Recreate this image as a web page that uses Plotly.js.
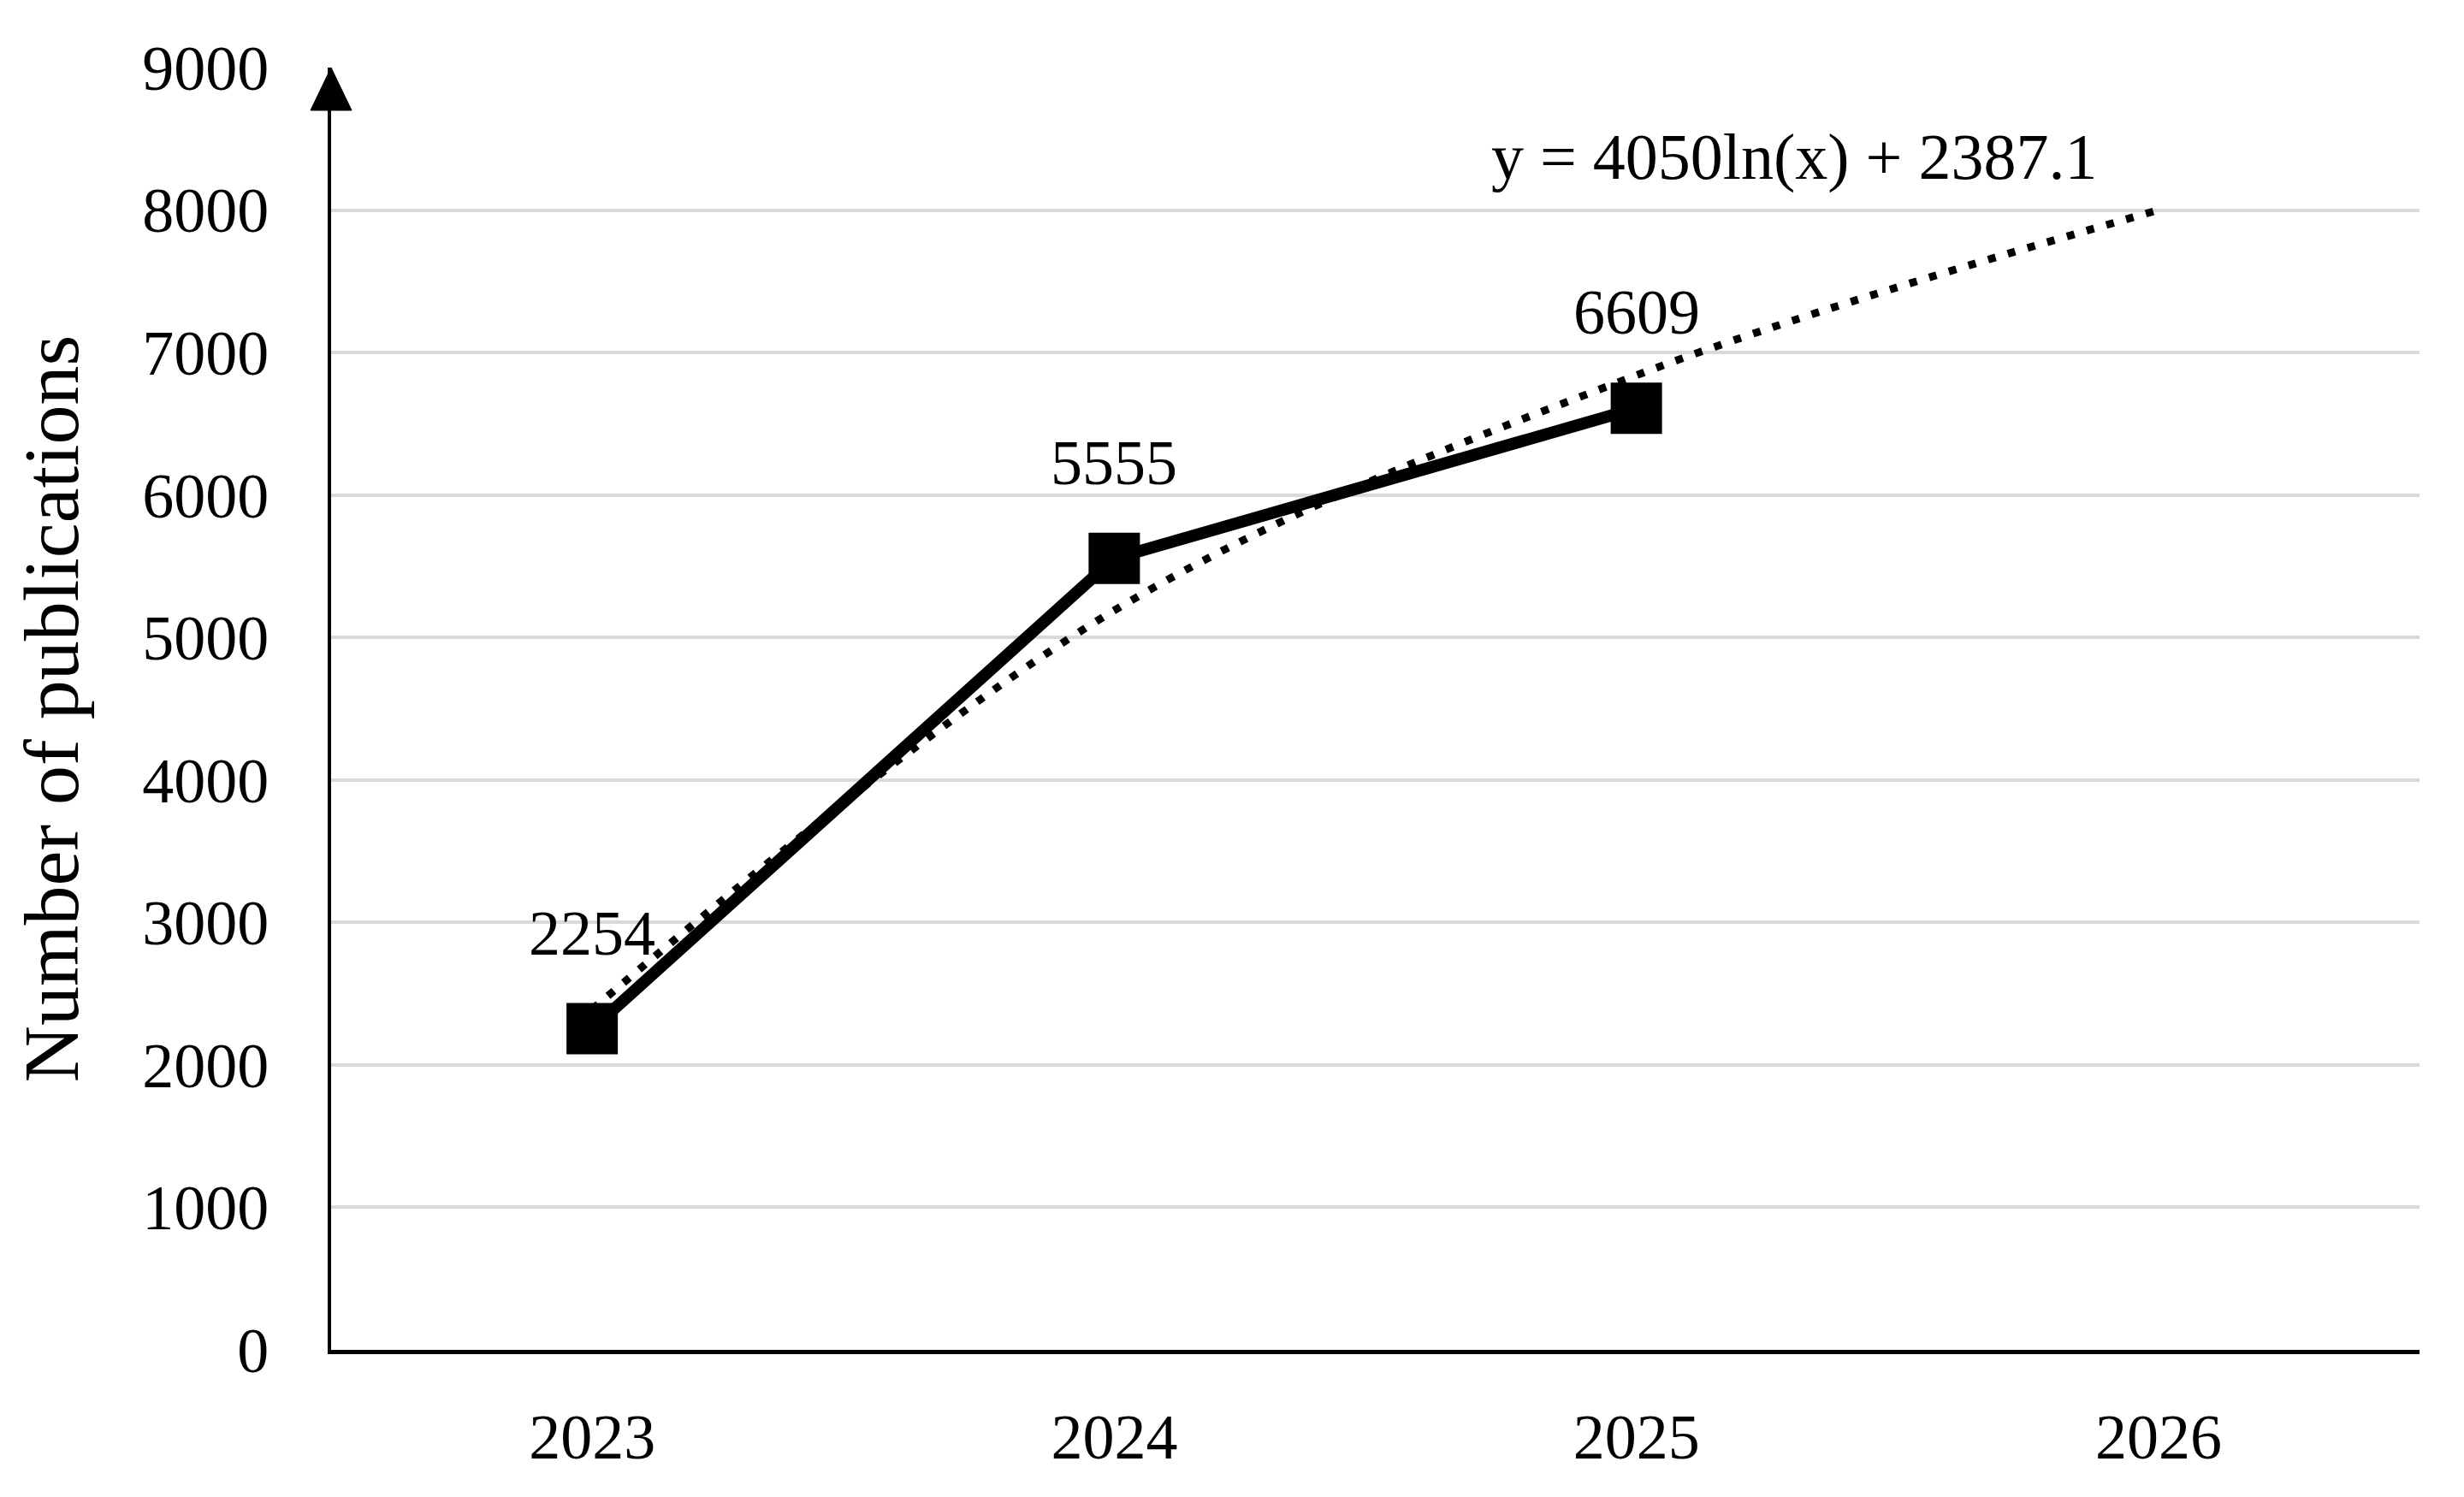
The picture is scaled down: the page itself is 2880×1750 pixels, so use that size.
<!DOCTYPE html>
<html>
<head>
<meta charset="utf-8">
<script src="https://cdn.plot.ly/plotly-3.0.1.min.js"></script>
<style>html,body{margin:0;padding:0;background:#fff;}#chart{width:2880px;height:1750px;}</style>
</head>
<body>
<div id="chart"></div>
<script>
// ---- data ----
const years = ["2023", "2024", "2025", "2026"];
const pubYears = ["2023", "2024", "2025"];
const publications = [2254, 5555, 6609];
const trendYears = ["2023", "2024", "2025", "2026"];
const trendValues = [2390, 5190, 6840, 8000];
const equationText = "y = 4050ln(x) + 2387.1";
const yTicks = [0, 1000, 2000, 3000, 4000, 5000, 6000, 7000, 8000, 9000];

const FONT = "Liberation Serif, Times New Roman, serif";

const traces = [
  {
    x: trendYears, y: trendValues, type: "scatter", mode: "lines",
    line: {color: "#000", width: 9, dash: "9px,15px", shape: "spline", smoothing: 1},
    hoverinfo: "skip", showlegend: false
  },
  {
    x: pubYears, y: publications, type: "scatter", mode: "lines+markers",
    line: {color: "#000", width: 14},
    marker: {symbol: "square", size: 60, color: "#000"},
    showlegend: false
  }
];

const annotations = pubYears.map((yr, i) => ({
  x: years.indexOf(yr), y: publications[i], xref: "x", yref: "y",
  xanchor: "center", yanchor: "middle",
  text: String(publications[i]), showarrow: false, yshift: 112,
  font: {family: FONT, size: 74, color: "#000"}
}));
annotations.push({
  x: 0.7005, y: 0.930, xref: "paper", yref: "paper",
  xanchor: "center", yanchor: "middle",
  text: equationText, showarrow: false,
  font: {family: FONT, size: 76, color: "#000"}
});

const layout = {
  width: 2880, height: 1750,
  margin: {l: 387, r: 52, t: 79, b: 172},
  paper_bgcolor: "#fff", plot_bgcolor: "#fff",
  font: {family: FONT, color: "#000"},
  xaxis: {
    type: "category", categoryarray: years, categoryorder: "array",
    range: [-0.5, 3.5], showgrid: false, zeroline: false,
    showline: true, linecolor: "#000", linewidth: 5,
    ticks: "", ticklabelstandoff: 33,
    tickfont: {family: FONT, size: 74, color: "#000"},
    fixedrange: true
  },
  yaxis: {
    range: [0, 9000], tickvals: yTicks, ticktext: yTicks.map(String),
    showgrid: true, gridcolor: "#d9d9d9", gridwidth: 4, zeroline: false,
    showline: true, linecolor: "#000", linewidth: 4,
    ticks: "", ticklabelstandoff: 54,
    tickfont: {family: FONT, size: 74, color: "#000"},
    title: {text: "Number of publications", font: {family: FONT, size: 92, color: "#000"}, standoff: 45},
    fixedrange: true
  },
  annotations: annotations,
  shapes: [{
    type: "path", xref: "paper", yref: "paper",
    xsizemode: "pixel", ysizemode: "pixel", xanchor: 0, yanchor: 1,
    path: "M -24 -50 L 24 -50 L 0 0 Z",
    fillcolor: "#000", line: {color: "#000", width: 1}
  }]
};

Plotly.newPlot("chart", traces, layout, {staticPlot: true, displayModeBar: false});
</script>
</body>
</html>
